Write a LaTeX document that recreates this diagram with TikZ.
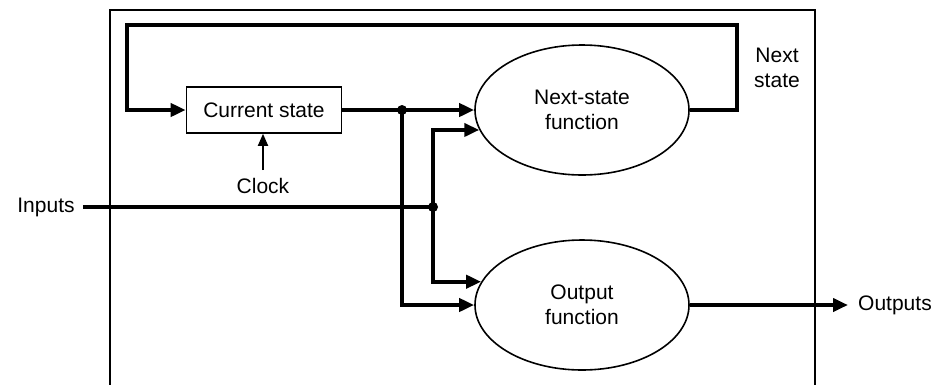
\documentclass[tikz,border=0pt]{standalone}
\usepackage{fontspec}
\setmainfont{Liberation Sans}
\usetikzlibrary{shapes.geometric,arrows.meta}
\begin{document}
\begin{tikzpicture}[x=1pt,y=-1pt,
  every node/.style={font=\fontsize{21}{25}\selectfont},
  thin line/.style={line width=1.6pt},
  thick line/.style={line width=4pt},
  bigarrow/.style={thick line,-{Triangle[length=15pt,width=13pt]}},
  smallarrow/.style={line width=1.8pt,-{Triangle[length=12pt,width=10pt]}},
  func/.style={ellipse,draw,thin line,minimum width=214pt,minimum height=130pt,inner sep=0pt,align=center},
  label/.style={inner sep=0pt,align=center},
  dot/.style={circle,fill=black,inner sep=0pt,minimum size=10pt}]
\useasboundingbox (0,0) rectangle (934,384);
% outer frame
\draw[thin line] (110,10) -- (815,10) -- (815,400) -- (110,400) -- cycle;
% nodes
\node[draw,thin line,minimum width=155pt,minimum height=46pt,inner sep=0pt] (cs) at (264,110) {Current state};
\node[func] (nsf) at (582,110) {Next-state\\function};
\node[func] (of) at (582,305) {Output\\function};
\node[label] (clock) at (263,186) {Clock};
\node[label] (inputs) at (46,207) {Inputs};
\node[label,anchor=west] (outputs) at (858,305) {Outputs};
\node[label] (nextstate) at (777,68) {Next\\state};
\node[dot] (j1) at (402,110) {};
\node[dot] (j2) at (433,207) {};
\coordinate (loopR) at (737,25);
\coordinate (loopL) at (127,25);
% connectors
\draw[bigarrow] (nsf.east) -| (loopR) -- (loopL) |- (cs.west);
\draw[bigarrow] (cs.east) -- (j1.center) -- (nsf.west);
\draw[bigarrow] (j1.center) |- (of.west);
\draw[thick line] ([xshift=8pt]inputs.east) -- (j2.center);
\draw[bigarrow] (j2.center) |- (nsf.191.7);
\draw[bigarrow] (j2.center) |- (of.167.7);
\draw[bigarrow] (of.east) -- ([xshift=-10pt]outputs.west);
\draw[smallarrow] ([yshift=8pt]clock.north) -- (clock.north |- cs.south);
\end{tikzpicture}
\end{document}
